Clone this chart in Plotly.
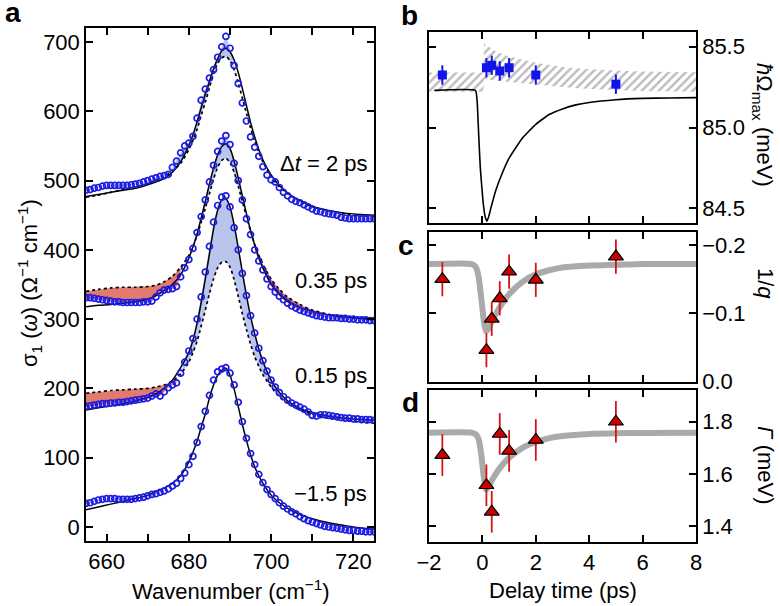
import numpy as np
import plotly.graph_objects as go

W, H = 780, 606
FONT = "Liberation Sans, Arial, Helvetica, sans-serif"

# ---------------- panel a data ----------------
wn = list(range(655, 726))  # measured wavenumbers (cm-1), 1 cm-1 steps
wn_fit = [655, 658, 661, 664, 667, 670, 672, 674, 676, 678, 680,
          681, 682, 683, 684, 685, 686, 687, 688, 689, 690, 691, 692, 693, 694, 695, 696, 697, 698,
          700, 702, 704, 707, 710, 714, 718, 722, 725]

data_m15 = [34, 35, 37, 39, 40, 41, 41, 41, 40, 40,
            40, 40, 41, 42, 43, 45, 47, 48, 50, 52,
            55, 59, 63, 70, 78, 90, 102, 122, 145, 167,
            190, 212, 224, 228, 230, 222, 205, 180, 152, 128,
            106, 90, 76, 64, 54, 47, 41, 35, 30, 26,
            22, 19, 15, 12, 9, 7, 5, 3, 1, 0,
            -1, -2, -3, -4, -5, -5, -6, -6, -7, -7, -7]
data_015 = [174, 175, 176, 177, 178, 178, 179, 179, 180, 180,
            181, 182, 183, 184, 185, 186, 189, 192, 189, 195,
            201, 205, 208, 222, 238, 254, 272, 300, 332, 368,
            405, 440, 464, 476, 478, 462, 432, 400, 366, 334,
            305, 280, 258, 240, 225, 212, 202, 194, 188, 183,
            179, 176, 173, 170, 166, 161, 160, 162, 162, 161,
            160, 159, 158, 157, 157, 156, 156, 155, 155, 155, 154]
data_035 = [331, 331, 330, 329, 328, 327, 326, 325, 325, 324,
            324, 324, 324, 324, 325, 325, 326, 332, 338, 342,
            343, 344, 347, 361, 374, 386, 402, 425, 448, 472,
            498, 522, 542, 557, 565, 552, 525, 500, 472, 445,
            422, 400, 384, 371, 358, 347, 339, 333, 328, 323,
            319, 316, 313, 311, 309, 307, 305, 304, 303, 302,
            302, 302, 301, 301, 300, 300, 299, 299, 299, 298, 298]
data_2 = [486, 487, 489, 490, 492, 493, 493, 493, 493, 493,
          493, 494, 495, 496, 498, 500, 502, 504, 506, 507,
          509, 519, 528, 540, 550, 554, 564, 590, 616, 632,
          648, 660, 678, 693, 708, 691, 666, 640, 612, 586,
          563, 548, 535, 520, 508, 501, 498, 490, 483, 478,
          473, 470, 468, 465, 462, 459, 456, 455, 453, 452,
          451, 450, 447, 446, 445, 445, 445, 445, 445, 445, 445]

fit_m15 = [25, 29, 33, 37, 41, 46, 51, 56, 63, 74, 94,
           108, 124, 144, 163, 186, 205, 219, 226, 229, 219, 199, 174, 148, 125, 104, 87, 74, 63,
           46, 35, 27, 18, 12, 6, 2, -1.5, -3.4]
fit_015 = [169, 172, 175, 178, 182, 187, 192, 200, 212, 230, 252,
           270, 294, 324, 358, 394, 430, 457, 472, 474, 462, 436, 403, 368, 334, 304, 279, 257, 239,
           212, 194, 182, 171, 165, 160, 157, 155, 154]
fit_035 = [318, 320, 321, 323, 325, 329, 334, 341, 350, 364, 388,
           404, 423, 446, 470, 495, 518, 537, 549, 553, 546, 528, 504, 478, 452, 428, 407, 389, 374,
           351, 336, 326, 317, 311, 306, 303, 301, 300]
fit_2 = [477, 480, 483, 486, 489, 494, 498, 503, 512, 527, 551,
         566, 585, 605, 625, 643, 661, 676, 687, 691, 686, 674, 656, 633, 608, 584, 563, 545, 530,
         508, 493, 482, 471, 463, 457, 453, 451, 450]

ref_015 = [193, 195, 197, 198, 199, 200, 202, 205, 211, 221, 238,
           252, 268, 290, 313, 337, 358, 374, 382, 383, 375, 357, 333, 308, 285, 264, 246, 232, 220,
           202, 188, 179, 169, 163, 157, 154, 151, 150]
ref_035 = [340, 343, 345, 346, 346, 347, 349, 354, 362, 375, 392,
           405, 421, 440, 460, 481, 502, 519, 529, 532, 526, 512, 492, 470, 448, 427, 408, 392, 379,
           358, 343, 332, 321, 313, 307, 303, 301, 300]
ref_2 = [476, 479, 483, 487, 491, 496, 501, 506, 514, 525, 545,
         558, 574, 594, 613, 634, 654, 669, 677, 679, 673, 660, 641, 619, 597, 576, 557, 541, 527,
         506, 491, 481, 470, 462, 456, 452, 449, 448]

spec_labels = ["Δ<i>t</i> = 2 ps", "0.35 ps", "0.15 ps", "−1.5 ps"]

# ---------------- panels b-d data ----------------
t_pts = [-1.5, 0.15, 0.35, 0.65, 1.0, 2.0, 5.0]
omega = [85.325, 85.37, 85.385, 85.35, 85.37, 85.325, 85.268]
omega_err = [0.06, 0.06, 0.06, 0.06, 0.06, 0.06, 0.06]
invq = [-0.150, -0.046, -0.092, -0.122, -0.161, -0.149, -0.183]
invq_err = [0.025, 0.025, 0.025, 0.025, 0.025, 0.025, 0.025]
gamma = [1.672, 1.556, 1.454, 1.753, 1.688, 1.730, 1.800]
gamma_err = [0.08, 0.08, 0.08, 0.08, 0.08, 0.08, 0.08]

t_line = [-1.8, -0.26, -0.2, -0.14, -0.08, 0.02, 0.1, 0.17, 0.24, 0.3, 0.5, 0.75, 1.0, 1.5,
          2.0, 2.5, 3.0, 3.5, 4.0, 5.0, 6.0, 7.0, 8.0]
omega_line = [85.23, 85.23, 85.17, 84.96, 84.755, 84.55, 84.45, 84.42, 84.45, 84.49, 84.61, 84.72,
              84.81, 84.935, 85.02, 85.08, 85.115, 85.14, 85.155, 85.172, 85.18, 85.183, 85.185]

band_t = [-2, 0.04, 0.06, 0.5, 1.0, 1.5, 2.0, 3.0, 4.0, 5.0, 6.0, 8.0]
band_lo = [85.222, 85.222, 85.30, 85.29, 85.28, 85.272, 85.265, 85.25, 85.238, 85.23, 85.226, 85.222]
band_hi = [85.34, 85.34, 85.52, 85.47, 85.44, 85.42, 85.40, 85.375, 85.36, 85.352, 85.346, 85.342]

t_fit = [-2, -0.4, -0.25, -0.15, -0.05, 0.05, 0.13, 0.2, 0.3, 0.5, 0.75, 1.0, 1.5, 2.0, 2.5,
         3.0, 4.0, 5.0, 6.0, 8.0]
invq_fit = [-0.172, -0.172, -0.168, -0.155, -0.125, -0.09, -0.074, -0.076, -0.084, -0.099,
            -0.115, -0.128, -0.146, -0.157, -0.163, -0.167, -0.170, -0.171, -0.172, -0.172]
gamma_fit = [1.758, 1.758, 1.752, 1.735, 1.68, 1.59, 1.54, 1.545, 1.565, 1.60, 1.635, 1.662,
             1.70, 1.722, 1.737, 1.745, 1.753, 1.756, 1.757, 1.758]

# ---------------- figure ----------------
fig = go.Figure()

BLUE_FILL = "rgb(186,197,238)"
RED_FILL = "rgb(226,122,110)"
MARK = "rgb(28,28,228)"


def add_fill(upper, lower, lo, hi, color):
    xs = np.asarray(wn, float)
    m = (xs >= lo) & (xs <= hi)
    xx = xs[m]
    u = np.asarray(upper, float)[m]
    l = np.asarray(lower, float)[m]
    fig.add_trace(go.Scatter(x=list(xx) + list(xx[::-1]), y=list(u) + list(l[::-1]),
                             fill="toself", fillcolor=color, line=dict(width=0),
                             mode="lines", hoverinfo="skip", showlegend=False,
                             xaxis="x", yaxis="y"))


for data, ref, blue_rng, red_rngs in [
    (data_2, ref_2, (675, 692), []),
    (data_035, ref_035, (681, 694), [(655, 678), (696, 713)]),
    (data_015, ref_015, (678, 703), [(655, 677)]),
]:
    d = np.asarray(data, float)
    r = np.interp(wn, wn_fit, ref)
    add_fill(d, np.minimum(d, r), blue_rng[0], blue_rng[1], BLUE_FILL)
    for rr in red_rngs:
        add_fill(r, np.minimum(d, r), rr[0], rr[1], RED_FILL)

for ref in [ref_2, ref_035, ref_015]:
    fig.add_trace(go.Scatter(x=wn_fit, y=ref, mode="lines",
                             line=dict(color="black", width=1.7, dash="dot", shape="spline", smoothing=0.8),
                             showlegend=False, xaxis="x", yaxis="y"))
for fit in [fit_2, fit_035, fit_015, fit_m15]:
    fig.add_trace(go.Scatter(x=wn_fit, y=fit, mode="lines",
                             line=dict(color="black", width=1.5, shape="spline", smoothing=0.8),
                             showlegend=False, xaxis="x", yaxis="y"))
for data in [data_2, data_035, data_015, data_m15]:
    fig.add_trace(go.Scatter(x=wn, y=data, mode="markers",
                             marker=dict(symbol="circle-open", size=6, color=MARK,
                                         line=dict(width=1.7, color=MARK)),
                             showlegend=False, xaxis="x", yaxis="y"))

# panel b
fig.add_trace(go.Scatter(x=band_t + band_t[::-1], y=band_hi + band_lo[::-1], mode="lines",
                         fill="toself", fillcolor="rgba(255,255,255,0)",
                         fillpattern=dict(shape="/", fgcolor="rgb(120,120,120)", bgcolor="white",
                                          size=6, solidity=0.4),
                         line=dict(width=0), showlegend=False, xaxis="x2", yaxis="y2"))
fig.add_trace(go.Scatter(x=t_line, y=omega_line, mode="lines",
                         line=dict(color="black", width=1.6, shape="spline", smoothing=0.4),
                         showlegend=False, xaxis="x2", yaxis="y2"))
fig.add_trace(go.Scatter(x=t_pts, y=omega, mode="markers",
                         marker=dict(symbol="square", size=9, color="rgb(18,18,235)"),
                         error_y=dict(type="data", array=omega_err, color="rgb(18,18,235)",
                                      thickness=2, width=0),
                         showlegend=False, xaxis="x2", yaxis="y2"))

# panels c, d
for xa, ya, fitv, pts, err in [("x3", "y3", invq_fit, invq, invq_err),
                                ("x4", "y4", gamma_fit, gamma, gamma_err)]:
    fig.add_trace(go.Scatter(x=t_fit, y=fitv, mode="lines",
                             line=dict(color="rgb(170,170,170)", width=6, shape="spline", smoothing=0.6),
                             showlegend=False, xaxis=xa, yaxis=ya))
    fig.add_trace(go.Scatter(x=t_pts, y=pts, mode="markers",
                             marker=dict(symbol="triangle-up", size=13, color="rgb(205,0,0)",
                                         line=dict(color="black", width=1.2)),
                             error_y=dict(type="data", array=err, color="rgb(215,20,20)",
                                          thickness=1.8, width=0),
                             showlegend=False, xaxis=xa, yaxis=ya))


def ax(**kw):
    base = dict(showline=True, linecolor="black", linewidth=1.5, mirror="ticks",
                ticks="inside", ticklen=7, tickwidth=1.5, tickcolor="black",
                showgrid=False, zeroline=False, automargin=False,
                tickfont=dict(size=22, color="black", family=FONT))
    base.update(kw)
    return base


xa_dom = [86 / W, 374 / W]
xb_dom = [429 / W, 696 / W]
tvals = [-2, 0, 2, 4, 6, 8]

fig.update_layout(
    width=W, height=H, margin=dict(l=0, r=0, t=0, b=0),
    paper_bgcolor="white", plot_bgcolor="white", showlegend=False,
    font=dict(family=FONT, size=22, color="black"),
    xaxis=ax(domain=xa_dom, anchor="y", range=[655, 725],
             tickvals=[660, 670, 680, 690, 700, 710, 720],
             ticktext=["660", "", "680", "", "700", "", "720"], ticklabelstandoff=0),
    yaxis=ax(domain=[1 - 541 / H, 1 - 28 / H], anchor="x", range=[-20.2, 720.2],
             tickvals=[0, 100, 200, 300, 400, 500, 600, 700], ticklabelstandoff=0),
    xaxis2=ax(domain=xb_dom, anchor="y2", range=[-2, 8], tickvals=tvals, showticklabels=False),
    yaxis2=ax(domain=[1 - 223 / H, 1 - 32 / H], anchor="x2", side="right",
              range=[84.409, 85.591], tickvals=[84.5, 85.0, 85.5],
              ticktext=["84.5", "85.0", "85.5"], ticklabelstandoff=0),
    xaxis3=ax(domain=xb_dom, anchor="y3", range=[-2, 8], tickvals=tvals, showticklabels=False),
    yaxis3=ax(domain=[1 - 382 / H, 1 - 232 / H], anchor="x3", side="right",
              range=[0.0005, -0.219], tickvals=[-0.2, -0.1, 0.0],
              ticktext=["−0.2", "−0.1", "0.0"], ticklabelstandoff=0),
    xaxis4=ax(domain=xb_dom, anchor="y4", range=[-2, 8], tickvals=tvals,
              ticktext=["−2", "0", "2", "4", "6", "8"], ticklabelstandoff=0),
    yaxis4=ax(domain=[1 - 542 / H, 1 - 390 / H], anchor="x4", side="right",
              range=[1.338, 1.922], tickvals=[1.4, 1.6, 1.8],
              ticktext=["1.4", "1.6", "1.8"], ticklabelstandoff=0),
)


def ann(text, x, y, size=22, xanchor="center", angle=0, bold=False):
    fig.add_annotation(text=f"<b>{text}</b>" if bold else text, x=x / W, y=1 - y / H,
                       xref="paper", yref="paper", showarrow=False, xanchor=xanchor,
                       yanchor="middle", textangle=angle,
                       font=dict(size=size, family=FONT, color="black"))


ann("a", 13, 13, size=28, bold=True)
ann("b", 409, 15, size=28, bold=True)
ann("c", 406, 245, size=28, bold=True)
ann("d", 410, 402, size=28, bold=True)

for lab, yy in zip(spec_labels, [163, 280, 375, 493]):
    ann(lab, 369, yy, xanchor="right")

ann("Wavenumber (cm<sup>−1</sup>)", 231, 590)
ann("σ<sub>1</sub> (<i>ω</i>) (Ω<sup>−1</sup> cm<sup>−1</sup>)", 29, 283, angle=-90)
ann("Delay time (ps)", 563, 590)
ann("<i>ħ</i>Ω<sub>max</sub> (meV)", 763, 125, angle=90)
ann("1/<i>q</i>", 766, 283, angle=90)
ann("<i>Γ</i> (meV)", 766, 465, angle=90)

# remove the browser's default 8px body margin so the 780x606 figure fills the window exactly
fig.write_html("out.html", config={"displayModeBar": False},
               post_script="document.body.style.margin='0';document.body.style.overflow='hidden';")
